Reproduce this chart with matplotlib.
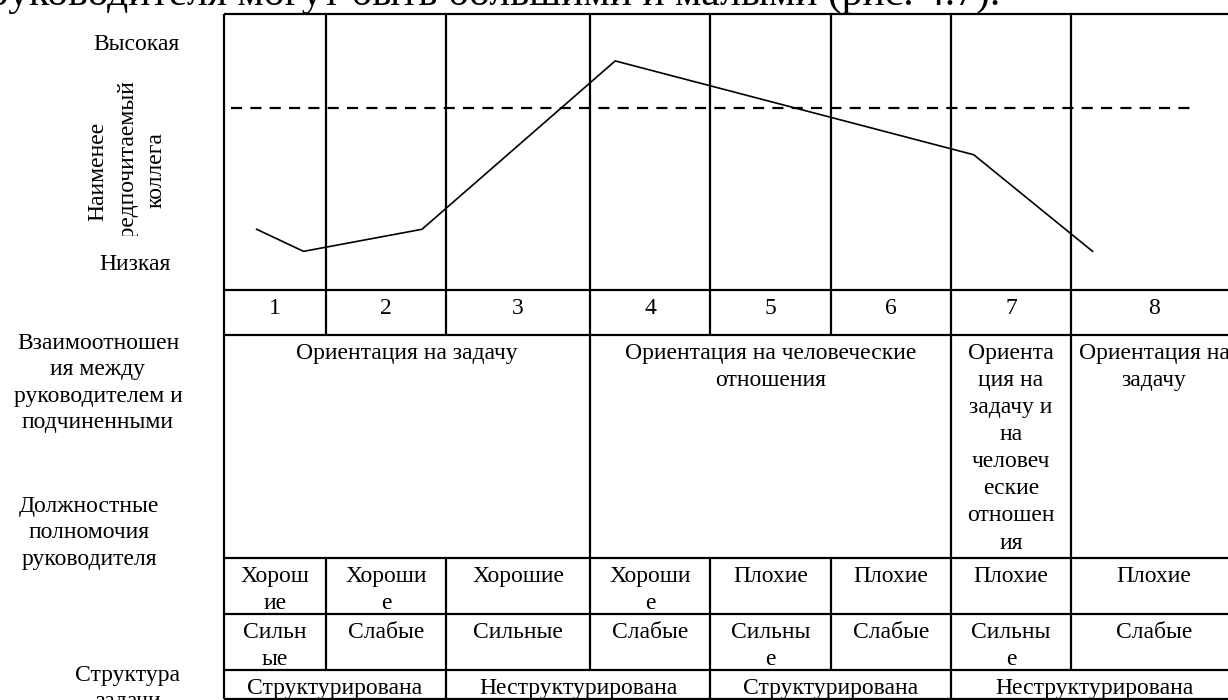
import matplotlib.pyplot as plt
import numpy as np
from matplotlib.patches import Rectangle

plt.rcParams["font.family"] = ["Liberation Serif", "DejaVu Serif"]

# --- data -----------------------------------------------------------------
situations = ["1", "2", "3", "4", "5", "6", "7", "8"]

orientation = [
    "Ориентация на задачу",
    "Ориентация на человеческие\nотношения",
    "Ориента\nция на\nзадачу и\nна\nчеловеч\nеские\nотношен\nия",
    "Ориентация на\nзадачу",
]
orientation_spans = [(0, 3), (3, 6), (6, 7), (7, 8)]

leader_relations = ["Хорош\nие", "Хороши\nе", "Хорошие", "Хороши\nе",
                    "Плохие", "Плохие", "Плохие", "Плохие"]
position_power = ["Сильн\nые", "Слабые", "Сильные", "Слабые",
                  "Сильны\nе", "Слабые", "Сильны\nе", "Слабые"]
task_structure = ["Структурирована", "Неструктурирована",
                  "Структурирована", "Неструктурирована"]
structure_spans = [(0, 2), (2, 4), (4, 6), (6, 8)]

# LPC curve: position in situation units (0..8), score 0 (low) .. 100 (high)
lpc_pos = [0.32, 0.78, 1.80, 3.21, 6.19, 7.13]
lpc_score = [22, 14, 22, 83, 49, 14]
lpc_threshold = 66
threshold_span = [0.07, 7.73]

# --- layout (pixels) ------------------------------------------------------
W, H = 1228, 700
col_edges = np.array([224, 326, 446, 590, 710, 831, 951, 1071, 1237])
y_top, y_num, y_orient, y_rel, y_pow, y_struct, y_bot = 14, 290, 335, 558, 614, 670, 699
LW = 1.6
FS = 17
LS = 1.38      # table cells
LS_LEFT = 1.34  # row captions

fig = plt.figure(figsize=(W / 100, H / 100), dpi=100)
ax = fig.add_axes([0, 0, 1, 1])
ax.set_xlim(0, W)
ax.set_ylim(H, 0)
ax.set_axis_off()

# frame lines
ax.vlines(col_edges[0], y_top, y_bot, color="k", lw=LW)
ax.vlines(col_edges[-1], y_top, y_bot, color="k", lw=LW)
ax.hlines([y_top, y_num, y_orient, y_rel, y_pow, y_struct, y_bot],
          col_edges[0], col_edges[-1], color="k", lw=LW)
ax.vlines(col_edges[1:-1], y_top, y_orient, color="k", lw=LW)
ax.vlines(col_edges[1:-1], y_rel, y_struct, color="k", lw=LW)
ax.vlines([col_edges[s] for s, _ in orientation_spans[1:]], y_orient, y_rel, color="k", lw=LW)
ax.vlines([col_edges[s] for s, _ in structure_spans[1:]], y_struct, y_bot, color="k", lw=LW)

centers = (col_edges[:-1] + col_edges[1:]) / 2
pad = 8
for i, lab in enumerate(situations):
    ax.text(centers[i], y_num + pad, lab, ha="center", va="top", fontsize=FS)
for i in range(8):
    ax.text(centers[i], y_rel + pad, leader_relations[i], ha="center", va="top",
            fontsize=FS, linespacing=LS)
    ax.text(centers[i], y_pow + pad, position_power[i], ha="center", va="top",
            fontsize=FS, linespacing=LS)
for lab, (a, b) in zip(orientation, orientation_spans):
    ax.text((col_edges[a] + col_edges[b]) / 2, y_orient + pad, lab, ha="center",
            va="top", fontsize=FS, linespacing=LS)
for lab, (a, b) in zip(task_structure, structure_spans):
    ax.text((col_edges[a] + col_edges[b]) / 2, y_struct + pad, lab, ha="center",
            va="top", fontsize=FS)

# LPC curve
def to_px(pos):
    return np.interp(pos, np.arange(9), col_edges)

def score_px(s):
    return y_num - np.asarray(s) / 100 * (y_num - y_top)

ax.plot(to_px(lpc_pos), score_px(lpc_score), color="k", lw=1.2)
ax.plot(to_px(threshold_span), [score_px(lpc_threshold)] * 2, color="k", lw=1.6,
        linestyle=(0, (5, 3.7)))

# left labels
ax.text(136, 44, "Высокая", ha="center", va="center", fontsize=FS)
ax.text(135, 264, "Низкая", ha="center", va="center", fontsize=FS)
ax.text(98, 171, "Наименее", ha="center", va="center", rotation=90, fontsize=FS)
t = ax.text(128, 165, "предпочитаемый", ha="center", va="center", rotation=90, fontsize=FS)
t.set_clip_on(True)
t.set_clip_path(Rectangle((60, 60), 120, 176, transform=ax.transData))
ax.text(156, 170, "коллега", ha="center", va="center", rotation=90, fontsize=FS)

ax.text(98, 333, "Взаимоотношен\nия между\nруководителем и\nподчиненными",
        ha="center", va="top", fontsize=FS, linespacing=LS_LEFT)
ax.text(89, 496, "Должностные\nполномочия\nруководителя",
        ha="center", va="top", fontsize=FS, linespacing=LS_LEFT)
ax.text(128, 665, "Структура\nзадачи", ha="center", va="top", fontsize=FS,
        linespacing=LS_LEFT)

# fragment of the preceding sentence at the top of the page
ax.text(1000, 5, "руководителя могут быть большими и малыми (рис. 4.7).",
        ha="right", va="baseline", fontsize=30)

fig.savefig("out.png", dpi=100, facecolor="white")
